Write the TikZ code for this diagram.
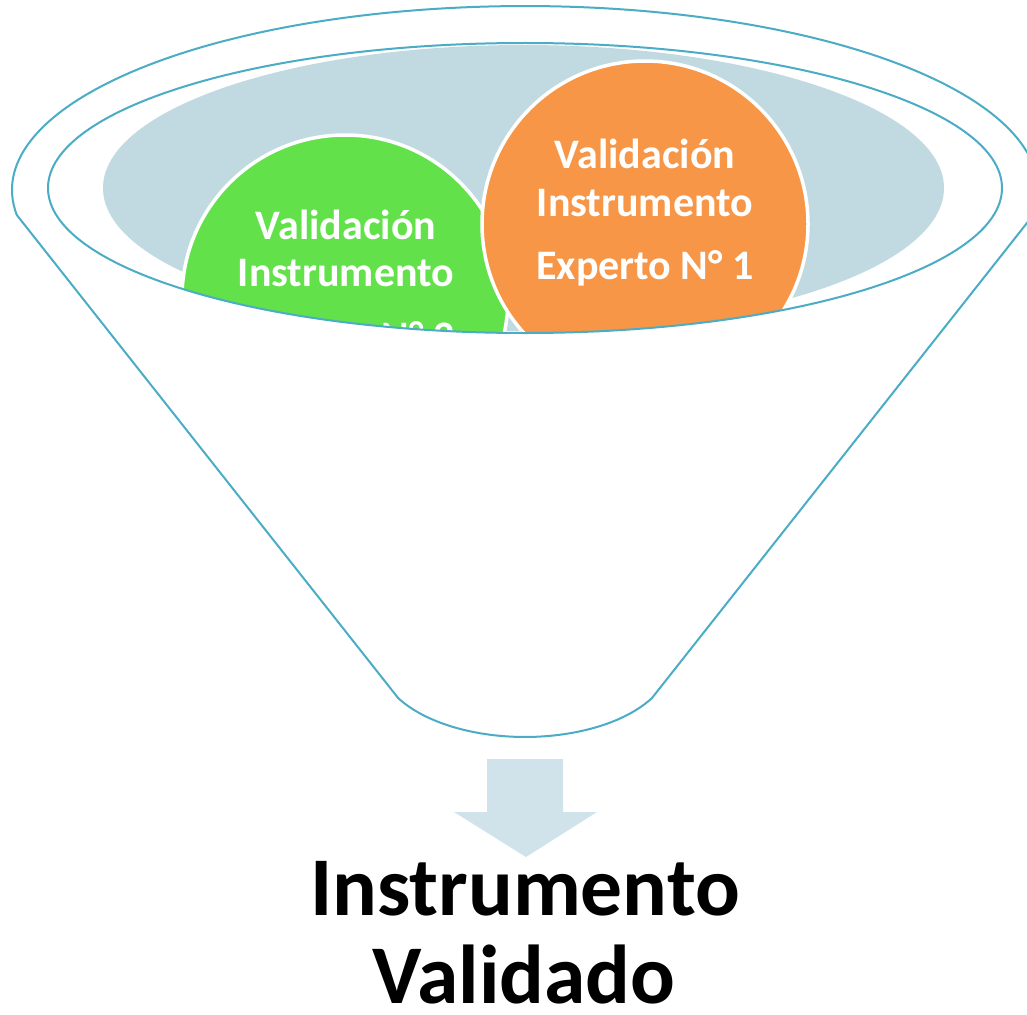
\documentclass[tikz,border=0pt]{standalone}
\usepackage{fontspec}
\setmainfont{Carlito}
\definecolor{funnelline}{RGB}{75,172,198}
\definecolor{bowlfill}{RGB}{193,218,226}
\definecolor{greenc}{RGB}{98,225,74}
\definecolor{orangec}{RGB}{247,150,70}
\definecolor{arrowc}{RGB}{208,227,234}
\tikzset{
  funnel/.style={draw=funnelline, line width=2pt},
  bubble/.style={circle, draw=white, line width=3.5pt, minimum size=326pt, inner sep=0pt},
  bubbletext/.style={anchor=base, inner sep=0pt, text=white, font=\bfseries\fontsize{42}{48}\selectfont},
  resulttext/.style={anchor=base, inner sep=0pt, text=black, font=\bfseries\fontsize{83.5}{88}\selectfont}
}
\begin{document}
\begin{tikzpicture}[x=1pt,y=1pt]
\useasboundingbox (0,0) rectangle (1027,-1014);

% funnel outline
\draw[funnel, fill=white] (16.8,-215)
  arc[start angle=187.8, end angle=-7.8, x radius=513, y radius=184]
  -- (652,-698)
  arc[start angle=330.4, end angle=209.6, x radius=146, y radius=77]
  -- cycle;

% bowl content, clipped to inner rim
\begin{scope}
  \clip (525,-188) ellipse [x radius=477, y radius=145];
  \fill[bowlfill] (523.5,-188) ellipse [x radius=420.5, y radius=143];
  \node[bubble, fill=greenc] (green) at (345,-298) {};
  \node[bubbletext] (g1) at (346,-239) {Validación};
  \node[bubbletext] (g2) at (346,-286) {Instrumento};
  \node[bubbletext] (g3) at (346,-350) {\phantom{Experto} N° 2};
  \node[bubble, fill=orangec] (orange) at (645,-224) {};
  \node[bubbletext] (o1) at (645,-168) {Validación};
  \node[bubbletext] (o2) at (645,-216) {Instrumento};
  \node[bubbletext] (o3) at (645,-279) {Experto N° 1};
\end{scope}

% inner rim
\draw[funnel] (525,-188) ellipse [x radius=477, y radius=145];

% block arrow
\fill[arrowc] (487,-759) -- (563,-759) -- (563,-812) -- (597,-812)
  -- (526,-857) -- (454,-812) -- (487,-812) -- cycle;

% result
\node[resulttext] (r1) at (525,-915) {Instrumento};
\node[resulttext] (r2) at (524,-1003) {Validado};
\end{tikzpicture}
\end{document}
